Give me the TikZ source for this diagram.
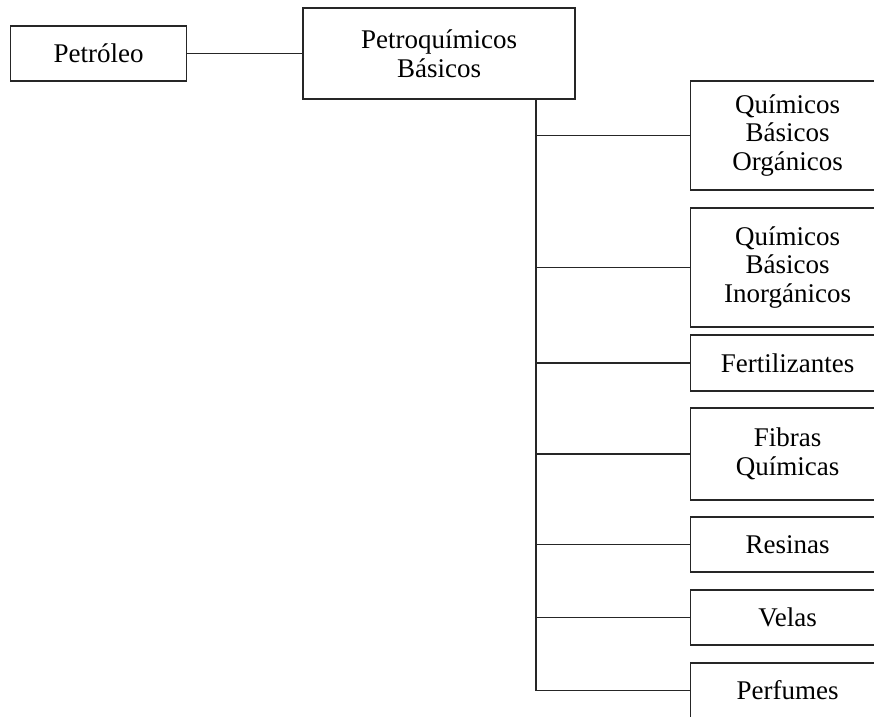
\documentclass[tikz,border=0pt]{standalone}
\usepackage{fontspec}
\setmainfont{Liberation Serif}
\begin{document}
\begin{tikzpicture}[x=1pt,y=-1pt,
  box/.style={draw=black!85, line width=1.4pt, rectangle, inner sep=0pt, align=center,
    font=\fontsize{27}{28.5}\selectfont, text=black},
  rbox/.style={box, minimum width=194pt, anchor=west},
  conn/.style={draw=black!85, line width=1.4pt}]
\useasboundingbox (0,0) rectangle (874,716);
\clip (0,0) rectangle (874,716);
\node[box, minimum width=176pt, minimum height=55pt] (pet) at (98.5,53.5) {Petróleo};
\node[box, minimum width=272pt, minimum height=91pt] (pqb) at (439,53.5) {Petroquímicos\\Básicos};
\node[rbox, minimum height=109pt] (org) at (690,135.5) {Químicos\\Básicos\\Orgánicos};
\node[rbox, minimum height=119pt] (inorg) at (690,267.5) {Químicos\\Básicos\\Inorgánicos};
\node[rbox, minimum height=56pt] (fert) at (690,363) {Fertilizantes};
\node[rbox, minimum height=92pt] (fib) at (690,454) {Fibras\\Químicas};
\node[rbox, minimum height=55pt] (res) at (690,544.5) {Resinas};
\node[rbox, minimum height=55pt] (vel) at (690,617.5) {Velas};
\node[rbox, minimum height=55pt] (perf) at (690,690.5) {Perfumes};
\coordinate (t) at (536,99);
\draw[conn] (pet.east) -- (pqb.west);
\draw[conn] (t) |- (perf.west);
\foreach \n in {org,inorg,fert,fib,res,vel}{\draw[conn] (t) |- (\n.west);}
\end{tikzpicture}
\end{document}
